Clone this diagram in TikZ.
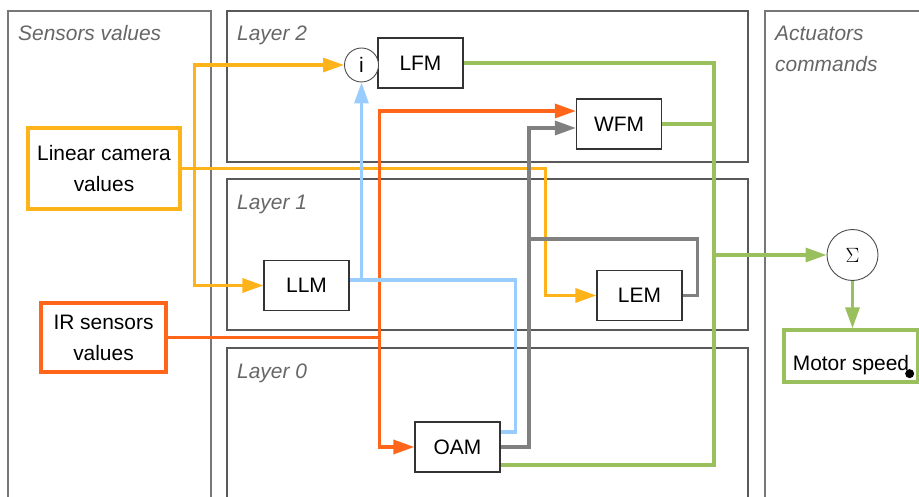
\documentclass[tikz,border=0pt]{standalone}
\usepackage{fontspec}
\setmainfont{Liberation Sans}
\usepackage{xcolor}
\usepackage{tikz}
\usetikzlibrary{arrows.meta,positioning}
\definecolor{camc}{HTML}{FFB31A}
\definecolor{irc}{HTML}{FF6619}
\definecolor{llmc}{HTML}{99CCFF}
\definecolor{oamc}{HTML}{808080}
\definecolor{outc}{HTML}{99C05C}
\definecolor{framec}{HTML}{777777}
\definecolor{labc}{HTML}{666666}
\newcommand{\diafont}{\fontsize{21}{31}\selectfont}
\tikzset{
  wire/.style={line width=3.3bp},
  ar/.style={wire,-{Triangle[length=21bp,width=14bp]}},
  col/.style={draw=framec,line width=1.4bp},
  lay/.style={draw=black!65,line width=1.2bp},
  tag/.style={anchor=base west,inner sep=0pt,font=\diafont\itshape,text=labc},
  mod/.style={draw=black!80,line width=1.2bp,fill=white,minimum width=85bp,minimum height=50bp,inner sep=0pt,text depth=0pt},
  src/.style={line width=3.3bp,fill=white,align=center,inner sep=0pt},
  op/.style={circle,draw=black!70,line width=0.9bp,fill=white,inner sep=0pt}
}

\begin{document}
\begin{tikzpicture}[x=1bp,y=-1bp,font=\diafont]
\useasboundingbox (0,0) rectangle (919,497);
\clip (0,0) rectangle (919,497);
\draw[col] (8,520) -- (8,11) -- (211,11) -- (211,520);
\draw[col] (765,520) -- (765,11) -- (940,11);
\draw[lay] (227,11) rectangle (748,162);
\draw[lay] (227,179) rectangle (748,330);
\draw[lay] (227,520) -- (227,348) -- (748,348) -- (748,520);
\node[tag] (senslab) at (18,40.5) {Sensors values};
\node[tag] (lay2lab) at (237,41) {Layer 2};
\node[tag] (lay1lab) at (237,210) {Layer 1};
\node[tag] (lay0lab) at (237,378) {Layer 0};
\node[tag] (actlab) at (775,41) {Actuators};
\node[tag] (cmdlab) at (775,72) {commands};

\node[mod] (lfm) at (420.5,63) {LFM};
\node[op,minimum size=34bp] (inhib) at (361.5,65) {i};
\node[mod] (wfm) at (619,124) {WFM};
\node[mod] (llm) at (306.5,285.5) {LLM};
\node[mod] (lem) at (639.5,295.5) {LEM};
\node[mod] (oam) at (457.5,447) {OAM};
\node[src,draw=camc,minimum width=152bp,minimum height=81bp] (cam) at (104,168.5) {Linear camera\\values};
\node[src,draw=irc,minimum width=125bp,minimum height=69bp] (ir) at (103.5,337.5) {IR sensors\\values};
\node[op,minimum size=51bp] (sum) at (852.5,255) {$\Sigma$};
\node[src,draw=outc,minimum width=134bp,minimum height=52bp] (motor) at (851,356) {\smash{\raisebox{-14bp}{Motor speed}}};
\fill ([shift={(-10bp,10bp)}]motor.south east) circle[radius=4.5bp];

\coordinate (camfork) at ([xshift=13bp]cam.east);
\draw[ar,camc] (cam.east) -- (camfork) |- (inhib.west);
\draw[ar,camc] (camfork) |- (llm.west);
\draw[ar,camc] (cam.east) -| ([xshift=-51bp]lem.west) -- (lem.west);

\coordinate (irfork) at ([xshift=212bp]ir.east);
\draw[ar,irc] (ir.east) -- (irfork) |- ([yshift=13bp]wfm.west);
\draw[ar,irc] (irfork) |- (oam.west);

\coordinate (llmout) at ([yshift=5.5bp]llm.east);
\coordinate (oamup) at ([xshift=166bp]llmout);
\draw[ar,llmc] (llmout) -| (inhib.south);
\draw[wire,llmc] ([yshift=15bp]oam.east) -| (oamup) -- (llmout -| inhib.south);

\coordinate (wfmin) at ([xshift=-47bp,yshift=-4bp]wfm.west);
\coordinate (lembus) at (wfmin |- 0,239);
\draw[ar,oamc] (oam.east) -| (wfmin) -- ([yshift=-4bp]wfm.west);
\draw[wire,oamc] (lem.east) -- ++(15,0) |- (lembus);

\coordinate (greenbus) at (714,255);
\draw[wire,outc] (lfm.east) -| (greenbus) |- ([yshift=-18bp]oam.east);
\draw[wire,outc] (wfm.east) -- (wfm.east -| greenbus);
\draw[ar,outc] (greenbus) -- (sum.west);
\draw[ar,outc] (sum.south) -- (sum.south |- motor.north);
\end{tikzpicture}
\end{document}
